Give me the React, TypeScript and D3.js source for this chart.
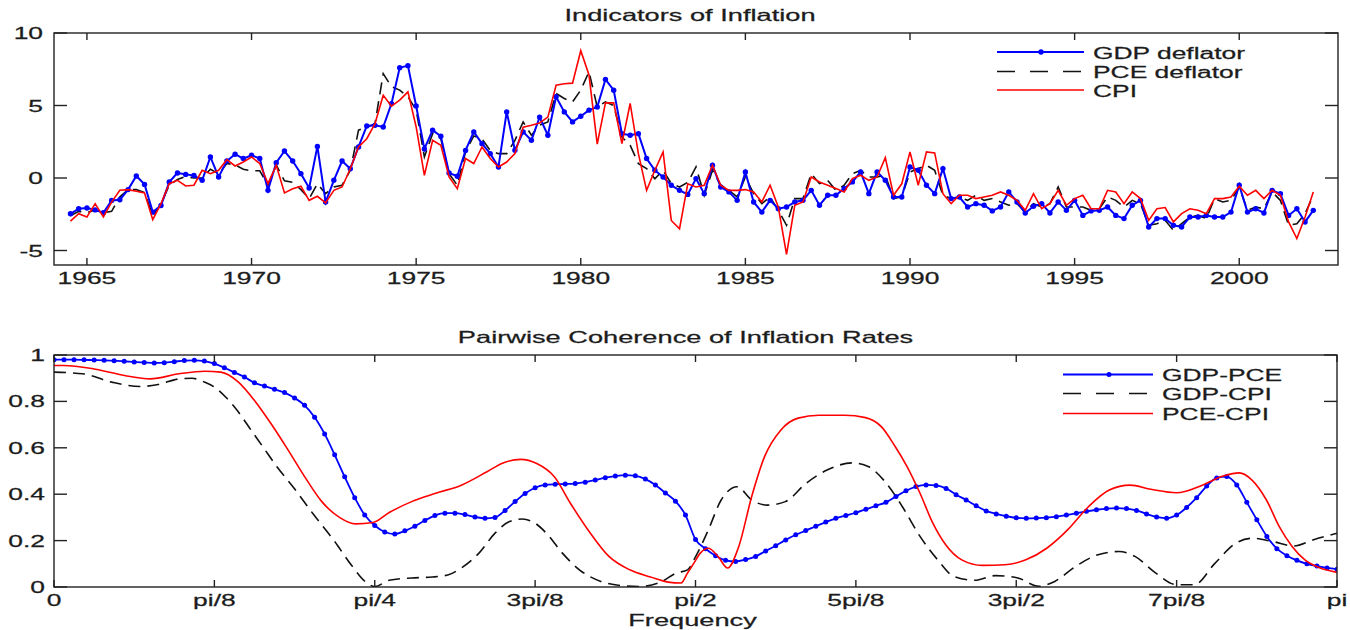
import * as d3 from "d3";

// quarterly inflation indicators, first quarter 1964.5, step 0.25 year
const firstQuarter = 1964.5;
const quarterStep = 0.25;

const gdpDeflator = [
  -2.47, -2.12, -2.07, -2.2, -2.4, -1.55, -1.5, -0.8, 0.14, -0.44, -2.35, -1.9,
  -0.28, 0.35, 0.25, 0.18, -0.16, 1.45, 0.07, 1.17, 1.64, 1.34, 1.57, 1.34,
  -0.85, 1.06, 1.86, 1.17, 0.3, -0.69, 2.18, -1.66, -0.16, 1.17, 0.64, 2.14,
  3.59, 3.63, 3.52, 5.13, 7.6, 7.75, 4.97, 2.0, 3.3, 2.88, 0.35, 0.12,
  1.9, 3.18, 2.37, 1.68, 0.76, 4.56, 1.91, 3.18, 2.6, 4.2, 2.95, 5.6,
  4.56, 3.87, 4.26, 4.68, 4.9, 6.8, 6.06, 3.06, 2.95, 3.06, 1.34, 0.53,
  0.07, -0.5, -0.85, -1.13, -0.04, -1.08, 0.88, -0.62, -0.96, -1.54, 0.42, -1.65,
  -2.35, -1.54, -2.12, -2.0, -1.65, -1.54, -0.85, -1.88, -1.19, -1.19, -0.73, -0.27,
  0.42, -1.08, 0.42, -0.16, -1.31, -1.31, 0.76, 0.53, -0.5, -1.08, 0.65, -1.42,
  -1.31, -2.0, -1.77, -1.88, -2.27, -2.0, -0.96, -1.65, -2.41, -1.95, -1.77, -2.41,
  -1.65, -2.23, -1.54, -2.58, -2.27, -2.23, -2.0, -2.58, -2.8, -1.88, -1.54, -3.38,
  -2.8, -2.8, -3.26, -3.38, -2.69, -2.69, -2.58, -2.69, -2.69, -2.35, -0.5, -2.35,
  -2.12, -2.41, -0.85, -1.08, -2.58, -2.12, -3.03, -2.23,
];

const pceDeflator = [
  -2.6, -2.3, -2.4, -2.2, -2.4, -2.3, -1.3, -0.8, -0.8, -1.0, -2.6, -1.8,
  -0.5, -0.1, 0.1, 0.0, 0.0, 0.6, 0.3, 1.0, 0.9, 0.6, 0.5, 0.5,
  -0.5, 0.9, -0.2, -0.3, -0.8, -1.43, -0.4, -1.08, -0.62, -0.5, 0.53, 3.3,
  3.5, 3.75, 7.2, 6.3, 6.06, 5.6, 4.7, 1.45, 3.06, 2.7, 0.3, -0.5,
  1.8, 2.9, 2.7, 1.9, 1.68, 1.68, 2.6, 3.87, 2.95, 3.64, 3.87, 5.83,
  5.48, 5.25, 6.06, 7.33, 4.9, 5.25, 5.0, 2.83, 2.26, 0.99, 0.65, -0.05,
  0.53, -0.39, -0.62, -0.3, 0.76, -1.19, 0.53, -0.5, -0.85, -1.31, 0.07, -1.08,
  -1.77, -1.31, -2.23, -3.26, -1.42, -1.42, 0.3, -0.39, -0.16, -0.85, -0.5, 0.3,
  0.53, 0.07, 0.07, 0.19, -1.42, -1.3, 0.42, 0.65, 0.88, 0.53, -1.19, -1.42,
  -1.31, -1.54, -1.19, -1.54, -1.42, -1.65, -1.88, -1.77, -2.35, -1.77, -2.0, -1.77,
  -0.62, -2.0, -2.0, -2.0, -2.23, -2.12, -1.3, -1.54, -2.0, -1.54, -1.77, -3.26,
  -3.15, -2.92, -3.61, -3.15, -2.69, -2.58, -2.8, -1.42, -1.65, -1.54, -0.62, -2.23,
  -2.0, -2.12, -0.96, -1.54, -3.26, -3.15, -2.46, -1.19,
];

const cpi = [
  -2.97, -2.46, -2.69, -1.77, -2.69, -1.66, -0.85, -0.8, -0.92, -1.03, -2.87, -1.77,
  -0.39, -0.16, -0.55, -0.5, 0.53, 0.3, 0.53, 1.26, 0.83, 1.1, 1.45, 1.0,
  -0.39, 0.87, -1.03, -0.74, -0.57, -1.54, -1.26, -1.72, -0.85, -0.62, 0.64, 2.14,
  2.71, 3.75, 5.7, 4.95, 5.37, 5.94, 3.52, 0.18, 2.6, 2.26, 0.07, -0.74,
  1.34, 1.0, 2.14, 1.34, 0.76, 1.1, 1.68, 3.5, 3.64, 3.8, 4.2, 6.4,
  6.5, 6.54, 8.78, 7.1, 2.33, 5.18, 5.18, 2.37, 5.14, 1.68, -0.85, 0.53,
  1.8, -2.93, -3.5, -0.4, -0.62, -0.5, 0.88, -0.5, -0.85, -0.85, -0.8, -0.96,
  -1.65, -0.5, -2.0, -5.26, -1.88, -1.65, 0.07, -0.27, -0.5, -0.73, -0.96, -0.04,
  0.19, -0.16, 0.07, 1.4, -1.19, -0.4, 1.8, -0.5, 1.8, 1.73, -1.08, -1.77,
  -1.19, -1.19, -1.42, -1.31, -1.19, -0.96, -1.19, -1.54, -2.23, -1.08, -2.12, -1.77,
  -0.85, -1.88, -1.42, -1.19, -2.12, -2.12, -0.85, -0.96, -1.77, -0.96, -1.42, -2.92,
  -2.12, -2.04, -3.03, -2.46, -2.12, -2.23, -2.46, -1.42, -1.42, -1.31, -0.57, -1.19,
  -0.85, -1.42, -0.85, -1.19, -3.03, -4.18, -2.69, -0.96,
];

const yearTicks = [1965, 1970, 1975, 1980, 1985, 1990, 1995, 2000];
const inflationTicks = [-5, 0, 5, 10];

// coherence: GDP-PCE on a grid of pi/128
const gdpPceCoherence = [
  0.98, 0.98, 0.98, 0.979, 0.978, 0.977, 0.975, 0.973, 0.97, 0.968, 0.966, 0.967, 0.971,
  0.976, 0.977, 0.974, 0.963, 0.945, 0.925, 0.905, 0.88, 0.866, 0.852, 0.838, 0.815, 0.783,
  0.732, 0.66, 0.57, 0.475, 0.385, 0.31, 0.265, 0.237, 0.228, 0.242, 0.262, 0.287, 0.308,
  0.318, 0.318, 0.312, 0.302, 0.296, 0.3, 0.33, 0.368, 0.403, 0.428, 0.44, 0.443, 0.444,
  0.446, 0.452, 0.461, 0.471, 0.478, 0.482, 0.479, 0.465, 0.44, 0.405, 0.37, 0.31, 0.205,
  0.165, 0.135, 0.115, 0.11, 0.118, 0.132, 0.155, 0.178, 0.203, 0.225, 0.243, 0.262, 0.28,
  0.296, 0.308, 0.32, 0.335, 0.35, 0.365, 0.39, 0.415, 0.433, 0.44, 0.438, 0.425, 0.398,
  0.375, 0.35, 0.328, 0.315, 0.305, 0.298, 0.296, 0.297, 0.299, 0.303, 0.31, 0.318, 0.326,
  0.333, 0.338, 0.34, 0.338, 0.33, 0.315, 0.302, 0.296, 0.31, 0.343, 0.385, 0.435, 0.47,
  0.476, 0.44, 0.365, 0.29, 0.218, 0.165, 0.135, 0.115, 0.1, 0.09, 0.082, 0.077,
];

// GDP-CPI and PCE-CPI, frequency in units of pi/8
const gdpCpiFreq = [
  0, 0.18, 0.36, 0.54, 0.65, 0.78, 0.86, 0.94, 1.0, 1.07, 1.15, 1.23, 1.31, 1.39, 1.49,
  1.62, 1.75, 1.86, 1.94, 2.0, 2.09, 2.23, 2.36, 2.46, 2.54, 2.65, 2.75, 2.84, 2.92, 3.0,
  3.07, 3.17, 3.28, 3.41, 3.54, 3.65, 3.78, 3.88, 3.95, 4.0, 4.08, 4.16, 4.26, 4.35, 4.45,
  4.56, 4.69, 4.82, 4.98, 5.08, 5.19, 5.29, 5.4, 5.51, 5.61, 5.74, 5.87, 6.01, 6.14, 6.24,
  6.37, 6.51, 6.64, 6.74, 6.87, 7.0, 7.11, 7.24, 7.37, 7.47, 7.6, 7.73, 7.85, 8.0,
];
const gdpCpiCoherence = [
  0.926, 0.919, 0.883, 0.864, 0.873, 0.897, 0.9, 0.883, 0.862, 0.819, 0.754, 0.675, 0.597,
  0.518, 0.432, 0.311, 0.196, 0.089, 0.024, 0.002, 0.029, 0.039, 0.043, 0.053, 0.082,
  0.146, 0.232, 0.282, 0.293, 0.275, 0.232, 0.146, 0.072, 0.024, 0.006, 0.002, 0.02, 0.06,
  0.074, 0.13, 0.246, 0.375, 0.432, 0.375, 0.353, 0.368, 0.447, 0.504, 0.535, 0.518,
  0.447, 0.346, 0.218, 0.117, 0.046, 0.029, 0.049, 0.039, 0.003, 0.024, 0.089, 0.139,
  0.153, 0.132, 0.06, 0.01, 0.01, 0.103, 0.189, 0.21, 0.196, 0.177, 0.203, 0.232,
];

const pceCpiFreq = [
  0, 0.06, 0.25, 0.44, 0.6, 0.78, 0.94, 1.04, 1.15, 1.25, 1.36, 1.46, 1.57, 1.67, 1.78,
  1.88, 1.99, 2.09, 2.23, 2.38, 2.54, 2.7, 2.8, 2.91, 3.01, 3.12, 3.22, 3.33, 3.46, 3.59,
  3.72, 3.83, 3.91, 3.95, 3.99, 4.03, 4.08, 4.14, 4.2, 4.27, 4.35, 4.43, 4.53, 4.64, 4.77,
  4.93, 5.06, 5.16, 5.24, 5.32, 5.4, 5.48, 5.56, 5.66, 5.79, 5.93, 6.06, 6.19, 6.32, 6.45,
  6.58, 6.71, 6.84, 7.0, 7.16, 7.29, 7.39, 7.47, 7.56, 7.64, 7.72, 7.8, 7.88, 8.0,
];
const pceCpiCoherence = [
  0.955, 0.955, 0.94, 0.912, 0.897, 0.919, 0.93, 0.926, 0.883, 0.804, 0.697, 0.59, 0.468,
  0.368, 0.3, 0.272, 0.278, 0.321, 0.368, 0.404, 0.439, 0.497, 0.535, 0.55, 0.532, 0.475,
  0.361, 0.246, 0.132, 0.074, 0.043, 0.021, 0.017, 0.06, 0.103, 0.146, 0.167, 0.132, 0.082,
  0.175, 0.389, 0.561, 0.675, 0.728, 0.74, 0.74, 0.73, 0.69, 0.611, 0.518, 0.404, 0.275,
  0.182, 0.117, 0.093, 0.096, 0.117, 0.167, 0.246, 0.346, 0.418, 0.439, 0.421, 0.406,
  0.439, 0.478, 0.492, 0.461, 0.375, 0.26, 0.175, 0.117, 0.086, 0.063,
];

const freqTickLabels = ["0", "pi/8", "pi/4", "3pi/8", "pi/2", "5pi/8", "3pi/2", "7pi/8", "pi"];
const coherenceTicks = [0, 0.2, 0.4, 0.6, 0.8, 1];

const W = 1350;
const H = 630;
const FONT = "'Liberation Sans', Arial, sans-serif";
const SX = 1.65; // the reference is stretched horizontally
const INK = "#1c1c1c";

function SText({ x, y, anchor = "start", size = 16, children }: any) {
  return (
    <text
      transform={`translate(${x},${y}) scale(${SX},1)`}
      textAnchor={anchor}
      fontSize={size}
      fontFamily={FONT}
      fill={INK}
      stroke={INK}
      strokeWidth={0.25}
    >
      {children}
    </text>
  );
}

function Frame({ left, right, top, bottom }: any) {
  return (
    <rect
      x={left}
      y={top}
      width={right - left}
      height={bottom - top}
      fill="none"
      stroke="#222"
      strokeWidth={1.4}
    />
  );
}

function InflationPanel() {
  const left = 54, right = 1338, top = 33, bottom = 265;
  const x = d3.scaleLinear().domain([1964, 2003]).range([left, right]);
  const y = d3.scaleLinear().domain([-6, 10]).range([bottom, top]);
  const date = (_: number, i: number) => firstQuarter + i * quarterStep;
  const line = d3
    .line<number>()
    .x((d, i) => x(date(d, i)))
    .y((d) => y(d));

  return (
    <g>
      <defs>
        <clipPath id="clipTop">
          <rect x={left} y={top} width={right - left} height={bottom - top} />
        </clipPath>
      </defs>
      <SText x={(left + right) / 2 - 6} y={21} anchor="middle" size={16.5}>
        Indicators of Inflation
      </SText>
      <g clipPath="url(#clipTop)">
        <path d={line(pceDeflator) || ""} fill="none" stroke="#111" strokeWidth={1.6} strokeDasharray="12,7" />
        <path d={line(gdpDeflator) || ""} fill="none" stroke="#0000ff" strokeWidth={2} />
        {gdpDeflator.map((d, i) => (
          <circle key={i} cx={x(date(d, i))} cy={y(d)} r={2.7} fill="#0000ff" />
        ))}
        <path d={line(cpi) || ""} fill="none" stroke="#ff0000" strokeWidth={1.6} />
      </g>
      <Frame left={left} right={right} top={top} bottom={bottom} />
      {yearTicks.map((t) => (
        <g key={t}>
          <line x1={x(t)} x2={x(t)} y1={bottom} y2={bottom - 7} stroke="#222" strokeWidth={1.4} />
          <line x1={x(t)} x2={x(t)} y1={top} y2={top + 7} stroke="#222" strokeWidth={1.4} />
          <SText x={x(t)} y={284} anchor="middle">{t}</SText>
        </g>
      ))}
      {inflationTicks.map((t) => (
        <g key={t}>
          <line x1={left} x2={left + 13} y1={y(t)} y2={y(t)} stroke="#222" strokeWidth={1.4} />
          <line x1={right} x2={right - 13} y1={y(t)} y2={y(t)} stroke="#222" strokeWidth={1.4} />
          <SText x={43} y={y(t) + 6} anchor="end">{t}</SText>
        </g>
      ))}
      <g>
        <line x1={997} x2={1084} y1={52} y2={52} stroke="#0000ff" strokeWidth={2} />
        <circle cx={1041} cy={52} r={2.7} fill="#0000ff" />
        <SText x={1093} y={58.5}>GDP deflator</SText>
        <line x1={997} x2={1084} y1={71.5} y2={71.5} stroke="#111" strokeWidth={1.6} strokeDasharray="18,15" />
        <SText x={1093} y={78}>PCE deflator</SText>
        <line x1={997} x2={1084} y1={90} y2={90} stroke="#ff0000" strokeWidth={1.6} />
        <SText x={1093} y={97}>CPI</SText>
      </g>
    </g>
  );
}

function CoherencePanel() {
  const left = 54, right = 1337, top = 355, bottom = 587;
  const x = d3.scaleLinear().domain([0, Math.PI]).range([left, right]);
  const y = d3.scaleLinear().domain([0, 1]).range([bottom, top]);
  const gridFreq = (i: number) => (i * Math.PI) / 128;
  const eighth = (e: number) => (e * Math.PI) / 8;

  const blueLine = d3
    .line<number>()
    .x((_, i) => x(gridFreq(i)))
    .y((d) => y(d))
    .curve(d3.curveMonotoneX);
  const smooth = (freqs: number[]) =>
    d3
      .line<number>()
      .x((_, i) => x(eighth(freqs[i])))
      .y((d) => y(d))
      .curve(d3.curveMonotoneX);

  return (
    <g>
      <defs>
        <clipPath id="clipBottom">
          <rect x={left} y={top - 2} width={right - left} height={bottom - top + 2} />
        </clipPath>
      </defs>
      <SText x={(left + right) / 2 - 10} y={343} anchor="middle" size={16.5}>
        Pairwise Coherence of Inflation Rates
      </SText>
      <g clipPath="url(#clipBottom)">
        <path d={smooth(gdpCpiFreq)(gdpCpiCoherence) || ""} fill="none" stroke="#111" strokeWidth={1.6} strokeDasharray="12,7" />
        <path d={blueLine(gdpPceCoherence) || ""} fill="none" stroke="#0000ff" strokeWidth={1.8} />
        {gdpPceCoherence.map((d, i) => (
          <circle key={i} cx={x(gridFreq(i))} cy={y(d)} r={2.5} fill="#0000ff" />
        ))}
        <path d={smooth(pceCpiFreq)(pceCpiCoherence) || ""} fill="none" stroke="#ff0000" strokeWidth={1.6} />
      </g>
      <Frame left={left} right={right} top={top} bottom={bottom} />
      {freqTickLabels.map((lab, k) => (
        <g key={lab}>
          <line x1={x(eighth(k))} x2={x(eighth(k))} y1={bottom} y2={bottom - 7} stroke="#222" strokeWidth={1.4} />
          <line x1={x(eighth(k))} x2={x(eighth(k))} y1={top} y2={top + 7} stroke="#222" strokeWidth={1.4} />
          <SText x={x(eighth(k))} y={606} anchor="middle">{lab}</SText>
        </g>
      ))}
      {coherenceTicks.map((t) => (
        <g key={t}>
          <line x1={left} x2={left + 13} y1={y(t)} y2={y(t)} stroke="#222" strokeWidth={1.4} />
          <line x1={right} x2={right - 13} y1={y(t)} y2={y(t)} stroke="#222" strokeWidth={1.4} />
          <SText x={45} y={y(t) + 6} anchor="end">{t === 0 || t === 1 ? String(t) : t.toFixed(1)}</SText>
        </g>
      ))}
      <SText x={(left + right) / 2 - 3} y={626} anchor="middle" size={16.5}>Frequency</SText>
      <g>
        <line x1={1063} x2={1153} y1={374.5} y2={374.5} stroke="#0000ff" strokeWidth={1.8} />
        <circle cx={1109} cy={374.5} r={2.5} fill="#0000ff" />
        <SText x={1162} y={380.5}>GDP-PCE</SText>
        <line x1={1063} x2={1153} y1={393.5} y2={393.5} stroke="#111" strokeWidth={1.6} strokeDasharray="18,15" />
        <SText x={1162} y={399.5}>GDP-CPI</SText>
        <line x1={1063} x2={1153} y1={413.5} y2={413.5} stroke="#ff0000" strokeWidth={1.6} />
        <SText x={1162} y={419.5}>PCE-CPI</SText>
      </g>
    </g>
  );
}

export default function App() {
  return (
    <svg
      width={W}
      height={H}
      viewBox={`0 0 ${W} ${H}`}
      style={{ position: "absolute", left: 0, top: 0, background: "#fff" }}
    >
      <rect width={W} height={H} fill="#fff" />
      <InflationPanel />
      <CoherencePanel />
    </svg>
  );
}
